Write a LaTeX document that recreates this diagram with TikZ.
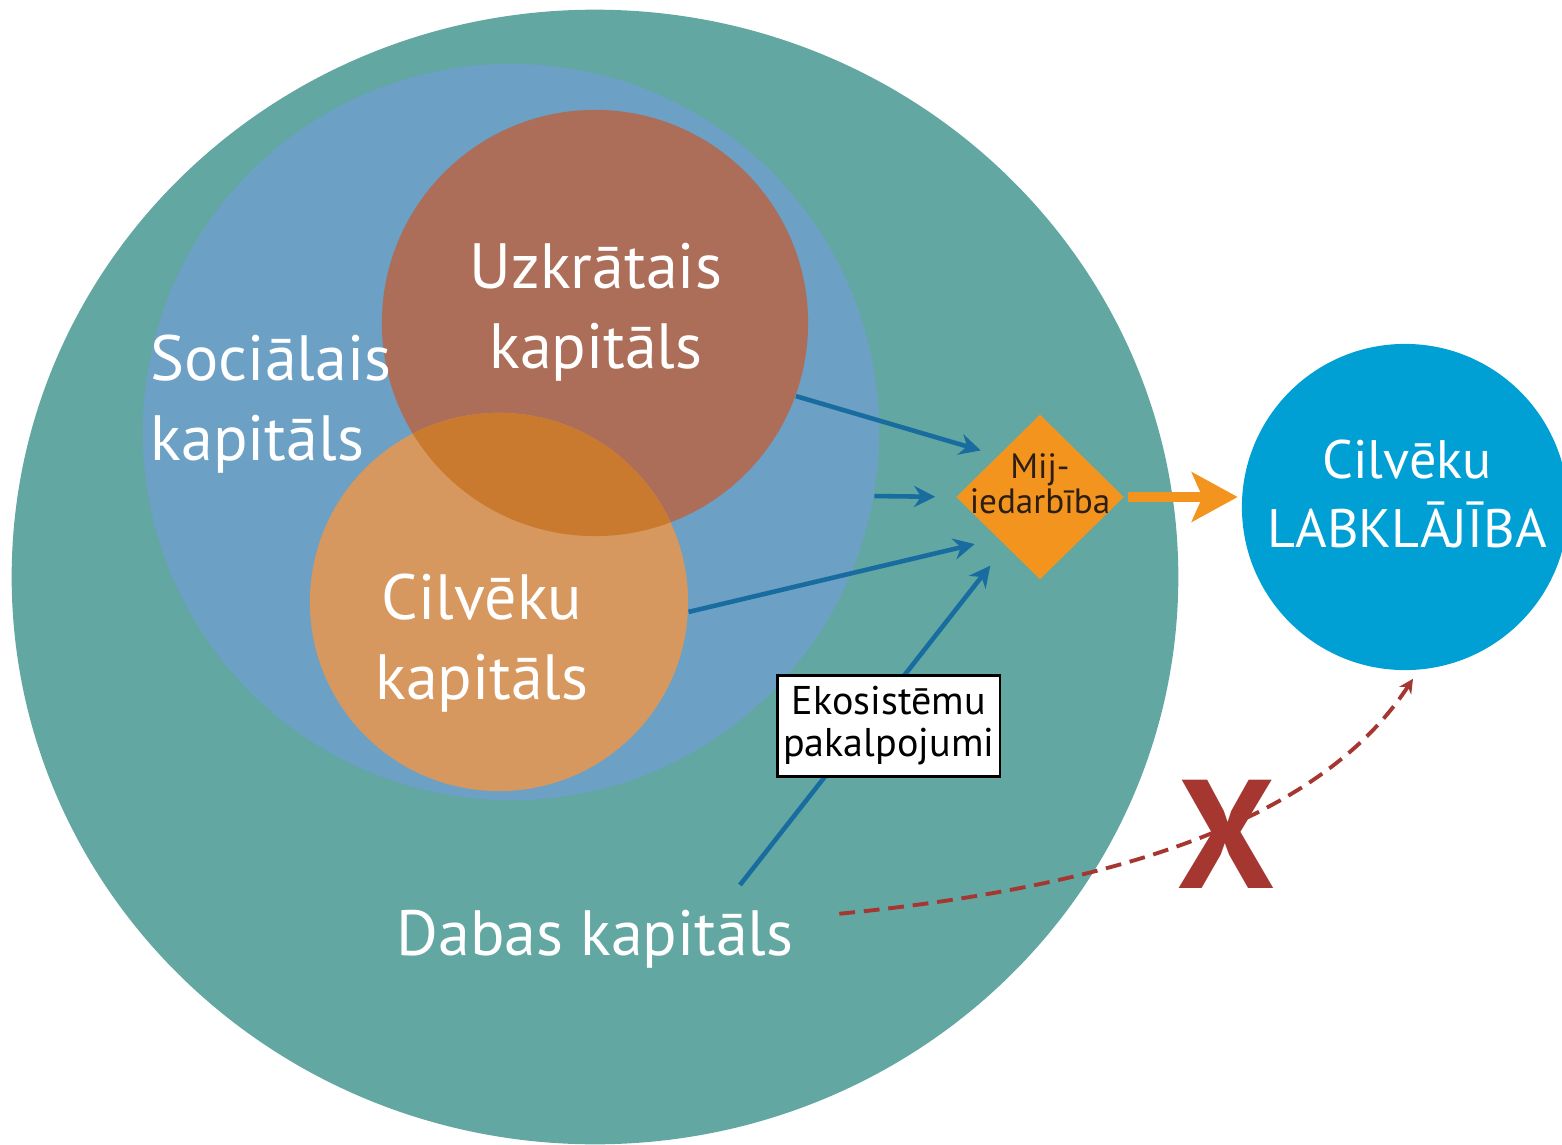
\documentclass[tikz,border=0pt]{standalone}
\usepackage{fontspec}
\setmainfont{PT Sans}
\usetikzlibrary{arrows.meta,shapes.geometric}

\definecolor{natureteal}{RGB}{98,167,161}
\definecolor{socialblue}{RGB}{108,160,196}
\definecolor{builtbrown}{RGB}{172,110,88}
\definecolor{humanorange}{RGB}{215,152,95}
\definecolor{overlaporange}{RGB}{201,122,46}
\definecolor{mixorange}{RGB}{243,148,31}
\definecolor{mixtext}{RGB}{45,30,20}
\definecolor{wellblue}{RGB}{0,160,212}
\definecolor{flowblue}{RGB}{25,108,160}
\definecolor{crossred}{RGB}{165,54,48}

\begin{document}
\begin{tikzpicture}[x=0.01cm, y=-0.01cm]
  % Size of the canvas (one unit is one pixel of the sketch)
  \def\picwidth{1562}
  \def\picheight{1145}
  \def\flowwidth{1.3pt} % Thickness of the blue arrows

  \tikzset{
    capital/.style={circle, inner sep=0pt},
    biglabel/.style={text=white, inner sep=0pt, align=center,
      font=\fontsize{18.2}{22.8}\selectfont},
    flow/.style={draw=flowblue, line width=\flowwidth,
      -{Stealth[length=6pt, width=6pt]}},
    ecobox/.style={draw=black, fill=white, line width=0.7pt, align=center,
      minimum width=2.22cm, minimum height=1.01cm, inner sep=1pt,
      font=\fontsize{11.4}{12}\selectfont},
  }

  \useasboundingbox (0,0) rectangle (\picwidth,\picheight);

  % Natural capital holds everything else
  \node[ellipse, fill=natureteal, minimum width=11.66cm, minimum height=11.34cm,
    inner sep=0pt] (nature) at (595,577) {};

  % Social, built and human capital
  \node[capital, fill=socialblue, minimum size=7.36cm] (social) at (511,432) {};
  \node[capital, fill=builtbrown, minimum size=4.26cm] (built) at (595,323) {};
  \node[capital, fill=humanorange, minimum size=3.78cm] (human) at (499,602) {};
  \begin{scope}
    \clip (human.center) circle [radius=1.89cm];
    \fill[overlaporange] (built.center) circle [radius=2.13cm];
  \end{scope}

  % Interaction and well-being
  \node[diamond, fill=mixorange, minimum width=1.68cm, minimum height=1.65cm,
    inner sep=0pt] (mix) at (1040,497) {};
  \node[capital, fill=wellblue, minimum size=3.26cm] (wellbeing) at (1405,507) {};

  % Labels
  \node[biglabel, align=left, anchor=west] (socialtxt) at (150,404) {Sociālais\\kapitāls};
  \node[biglabel] (builttxt) at (596,312) {Uzkrātais\\kapitāls};
  \node[biglabel] (humantxt) at (482,643) {Cilvēku\\kapitāls};
  \node[biglabel, anchor=base] (naturetxt) at (595,955) {Dabas kapitāls};
  \node[biglabel, font=\fontsize{15.4}{19.4}\selectfont] (welltxt) at (1407,494) {Cilvēku\\LABKLĀJĪBA};
  \node[align=center, inner sep=0pt, text=mixtext,
    font=\fontsize{10}{10}\selectfont] (mixtxt) at (1040,484) {Mij-\\iedarbība};

  % Flows into the interaction
  \draw[flow, shorten >=5pt] (built.-20) -- (mix.north west);
  \draw[flow, shorten >=5.7pt] (social.-10) -- (mix.west);
  \draw[flow, shorten >=6.7pt] (human.-3) -- (mix.south west);
  \draw[flow, shorten >=7pt] ([shift={(145,-24)}]naturetxt.north) -- (mix.-125)
    node[ecobox, pos=0.47, xshift=0.24cm] (eco) {Ekosistēmu\\pakalpojumi};

  % Interaction gives well-being
  \draw[draw=mixorange, line width=2.8pt, shorten <=1pt, shorten >=1pt,
    -{Stealth[length=13pt, width=14pt, inset=3pt]}]
    (mix.east) -- (mix.east -| wellbeing.west);

  % No direct way from nature to well-being
  \node[text=crossred, inner sep=0pt,
    font=\fontsize{44}{44}\selectfont\bfseries] (cross) at (1226,834) {X};
  \draw[crossred, line width=1.1pt, dash pattern=on 4.5pt off 2.5pt,
    -{Stealth[length=4pt, width=4pt]}]
    ([shift={(45,-25)}]naturetxt.east) .. controls +(275,-27) and +(-93,142)
    .. ([shift={(8,8)}]wellbeing.south);
\end{tikzpicture}
\end{document}
